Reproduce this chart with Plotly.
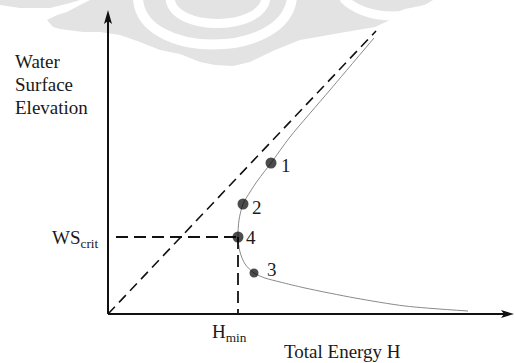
import plotly.graph_objects as go

# ---------------- data ----------------
# curve of water surface elevation vs total energy (arbitrary units)
curve_H = [26.6, 22.2, 18.2, 16.3, 15.0, 14.2, 13.5, 13.1, 13.0, 13.2, 13.7, 14.6, 15.7, 17.2, 19.7, 24.7, 29.7, 36.0]
curve_WS = [27.6, 22.4, 17.7, 15.1, 13.4, 12.2, 11.0, 9.4, 7.7, 6.2, 5.0, 4.1, 3.6, 3.2, 2.6, 1.6, 0.8, 0.3]

# dashed line WS = H (drawn from the origin)
diag_H = [0, 26.8]
diag_WS = [0, 28.3]

# trial points
point_labels = ["1", "2", "3", "4"]
point_H = [16.3, 13.5, 14.6, 13.0]
point_WS = [15.1, 11.0, 4.1, 7.7]
point_sizes = [11, 11, 9, 11]
label_shift_x = [15, 14, 18, 13]
label_shift_y = [-2, -3, 4, 0]

# axis extents
axis_H_max = 40.6
axis_WS_max = 30.4

# ---------------- layout helpers ----------------
W, HT = 515, 363
X0, Y0 = 108, 314      # pixel position of the origin
S = 10.0               # pixels per unit

FONT = "Liberation Serif"
TXT = "#1a1a1a"


def pp(x, y):
    return x / W, 1 - y / HT


def path_from(points, close=True):
    s = ""
    for i, (x, y) in enumerate(points):
        a, b = pp(x, y)
        s += ("M" if i == 0 else "L") + f"{a:.5f},{b:.5f}"
    return s + ("Z" if close else "")


def cubic(p0, c1, c2, p1, close=False):
    pts = [pp(*p) for p in (p0, c1, c2, p1)]
    s = f"M{pts[0][0]:.5f},{pts[0][1]:.5f}C{pts[1][0]:.5f},{pts[1][1]:.5f} {pts[2][0]:.5f},{pts[2][1]:.5f} {pts[3][0]:.5f},{pts[3][1]:.5f}"
    return s + ("Z" if close else "")


fig = go.Figure()

# main curve
fig.add_trace(go.Scatter(x=curve_H, y=curve_WS, mode="lines",
                         line=dict(color="#8a8a8a", width=1, shape="spline", smoothing=0.8),
                         hoverinfo="skip"))
# diagonal dashed line
fig.add_trace(go.Scatter(x=diag_H, y=diag_WS, mode="lines",
                         line=dict(color="#111111", width=1.6, dash="10px,6px"),
                         hoverinfo="skip"))
# critical lines
H_min = point_H[3]
WS_crit = point_WS[3]
fig.add_trace(go.Scatter(x=[0.8, H_min], y=[WS_crit, WS_crit], mode="lines",
                         line=dict(color="#111111", width=1.8, dash="12px,6px"), hoverinfo="skip"))
fig.add_trace(go.Scatter(x=[H_min, H_min], y=[WS_crit, 0], mode="lines",
                         line=dict(color="#111111", width=1.8, dash="12px,6px"), hoverinfo="skip"))
# points
fig.add_trace(go.Scatter(x=point_H, y=point_WS, mode="markers",
                         marker=dict(color="#000000", size=point_sizes, line=dict(width=0)),
                         hoverinfo="skip"))

shapes = []
# watermark
WM = "#e3e3e3"
blob = [(90, 0), (440, 0), (430, 4), (405, 9), (397, 12), (390, 20), (375, 27), (340, 33),
        (300, 40), (275, 50), (250, 62), (233, 66), (215, 65), (200, 62), (180, 54),
        (160, 50), (140, 42), (120, 35), (100, 32), (83, 32), (60, 29), (53, 27), (47, 20),
        (57, 15), (67, 12), (80, 5)]
shapes.append(dict(type="path", xref="paper", yref="paper", layer="below",
                   path=path_from(blob), fillcolor=WM, line=dict(width=0)))
cap = [(0, 0), (80, 0), (70, 3), (50, 8), (20, 8), (0, 5)]
shapes.append(dict(type="path", xref="paper", yref="paper", layer="below",
                   path=path_from(cap), fillcolor=WM, line=dict(width=0)))
shapes.append(dict(type="path", xref="paper", yref="paper", layer="below",
                   path=cubic((138, -2), (140, 60), (285, 60), (292, -2)),
                   line=dict(color="white", width=10)))
shapes.append(dict(type="path", xref="paper", yref="paper", layer="below",
                   path=cubic((170, -2), (172, 32), (262, 32), (266, -2)),
                   line=dict(color="white", width=9)))
shapes.append(dict(type="path", xref="paper", yref="paper", layer="below",
                   path=cubic((343, -2), (365, 22), (420, 22), (442, -2)),
                   line=dict(color="white", width=9)))

# axes
shapes.append(dict(type="line", xref="x", yref="y", x0=0, y0=0, x1=axis_H_max - 0.8, y1=0,
                   line=dict(color="#111111", width=2)))
shapes.append(dict(type="line", xref="x", yref="y", x0=0, y0=0, x1=0, y1=axis_WS_max - 0.8,
                   line=dict(color="#111111", width=2)))
# arrowheads
tipx = X0 + axis_H_max * S
tipy = Y0 - axis_WS_max * S
shapes.append(dict(type="path", xref="paper", yref="paper",
                   path=path_from([(tipx, Y0), (tipx - 13, Y0 - 4), (tipx - 10, Y0), (tipx - 13, Y0 + 4)]),
                   fillcolor="#111111", line=dict(width=0)))
shapes.append(dict(type="path", xref="paper", yref="paper",
                   path=path_from([(X0, tipy), (X0 - 4, tipy + 14), (X0, tipy + 11), (X0 + 4, tipy + 14)]),
                   fillcolor="#111111", line=dict(width=0)))

annotations = []


def text(x, y, s, xanchor="center", size=19):
    a, b = pp(x, y)
    annotations.append(dict(x=a, y=b, xref="paper", yref="paper", text=s, showarrow=False,
                            xanchor=xanchor, yanchor="middle",
                            font=dict(family=FONT, size=size, color=TXT)))


text(13, 62, "Water", "left")
text(13, 84, "Surface", "left")
text(13, 107, "Elevation", "left")
text(101, 239, "WS<sub>crit</sub>", "right")
text(229, 333, "H<sub>min</sub>")
text(342.5, 351, "Total Energy H")

for lab, h, ws, dx, dy in zip(point_labels, point_H, point_WS, label_shift_x, label_shift_y):
    annotations.append(dict(x=h, y=ws, xref="x", yref="y", text=lab, showarrow=False,
                            xanchor="center", yanchor="middle", xshift=dx, yshift=dy,
                            font=dict(family=FONT, size=19, color=TXT)))

fig.update_layout(
    width=W, height=HT, autosize=False,
    margin=dict(l=0, r=0, t=0, b=0),
    paper_bgcolor="white", plot_bgcolor="rgba(0,0,0,0)",
    showlegend=False,
    xaxis=dict(range=[-X0 / S, (W - X0) / S], visible=False, fixedrange=True),
    yaxis=dict(range=[-(HT - Y0) / S, Y0 / S], visible=False, fixedrange=True),
    shapes=shapes, annotations=annotations,
)

fig.write_html("out.html", config={"displayModeBar": False},
               post_script="document.body.style.margin='0';document.body.style.overflow='hidden';")
